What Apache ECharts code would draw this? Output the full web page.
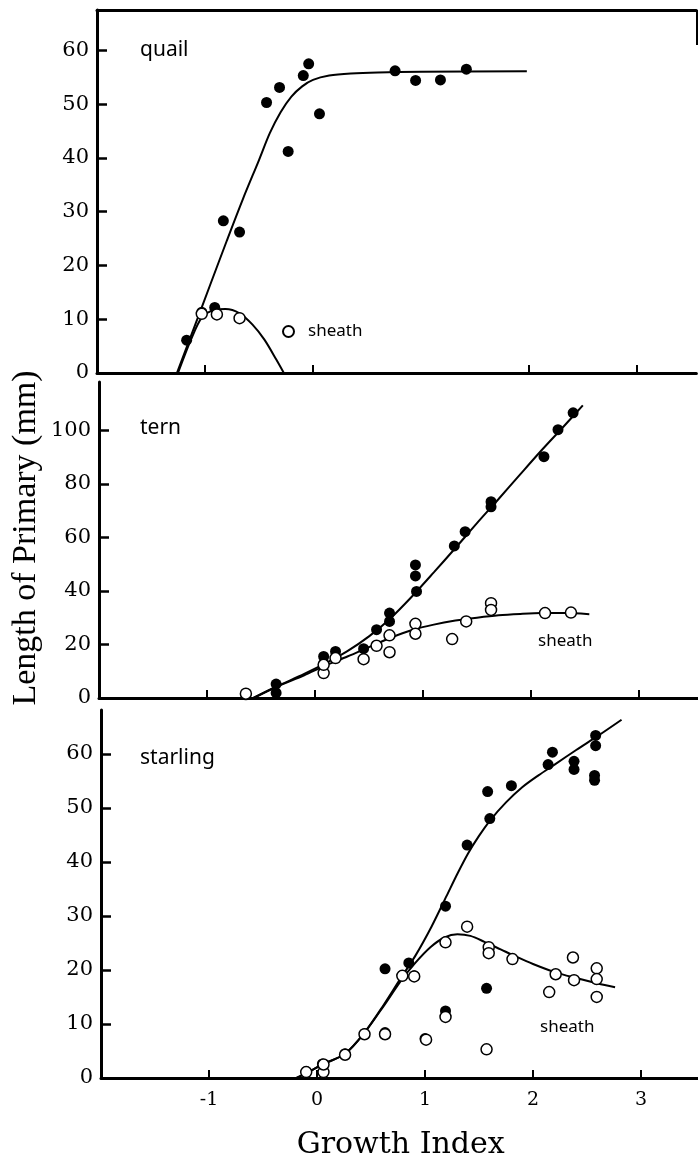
<!DOCTYPE html>
<html><head><meta charset="utf-8">
<script src="https://cdn.jsdelivr.net/npm/echarts@6/dist/echarts.min.js"></script>
<style>html,body{margin:0;padding:0;background:#fff}#c{width:698px;height:1165px}</style>
</head><body><div id="c"></div>
<script>
// ---- tick labels ----
const xTickValues = [-1, 0, 1, 2, 3];
const quailXTickValues = [-1, 0, 2, 3];
const quailYTicks = [0, 10, 20, 30, 40, 50, 60];
const ternYTicks = [0, 20, 40, 60, 80, 100];
const starlingYTicks = [0, 10, 20, 30, 40, 50, 60];
const panelNames = ['quail', 'tern', 'starling'];

// ---- quail ----
const quailPrimary = [[-1.17,6.1],[-1.03,11.3],[-0.91,12.2],[-0.83,28.3],[-0.68,26.2],[-0.43,50.3],[-0.31,53.1],[-0.23,41.2],[-0.09,55.3],[-0.04,57.5],[0.06,48.2],[0.76,56.2],[0.95,54.4],[1.18,54.5],[1.42,56.5]];
const quailSheath = [[-1.03,11.0],[-0.89,10.9],[-0.68,10.2]];
const quailPrimaryFit = [[-1.26,0],[-1.1,8.5],[-0.95,16.5],[-0.8,24.5],[-0.65,32.3],[-0.5,39.6],[-0.4,44.6],[-0.3,48.5],[-0.2,51.4],[-0.1,53.3],[0.0,54.5],[0.15,55.3],[0.35,55.7],[0.6,55.9],[1.0,56.0],[1.98,56.1]];
const quailSheathFit = [[-1.25,0],[-1.13,6.2],[-1.03,10.3],[-0.92,11.7],[-0.81,11.9],[-0.68,11.1],[-0.56,9.0],[-0.45,6.2],[-0.34,2.5],[-0.27,0]];

// ---- tern ----
const ternPrimary = [[-0.64,1.2],[-0.36,5.2],[-0.36,1.9],[0.08,15.5],[0.19,17.4],[0.45,18.4],[0.57,25.5],[0.69,31.7],[0.69,28.6],[0.93,49.7],[0.93,45.6],[0.94,39.8],[1.29,56.8],[1.39,62.1],[1.63,73.3],[1.63,71.4],[2.12,90.1],[2.25,100.2],[2.39,106.5]];
const ternSheath = [[-0.64,1.6],[0.08,9.3],[0.08,12.4],[0.19,14.9],[0.45,14.5],[0.57,19.5],[0.69,23.4],[0.69,17.1],[0.93,27.7],[0.93,24.0],[1.27,22.0],[1.40,28.6],[1.63,35.4],[1.63,32.9],[2.13,31.7],[2.37,31.9]];
const ternPrimaryFit = [[-0.57,0],[-0.36,4.2],[-0.1,9.0],[0.1,13.0],[0.3,17.5],[0.5,23.0],[0.7,29.8],[0.9,38.0],[1.1,46.9],[1.3,56.0],[1.5,65.3],[1.7,74.3],[1.9,83.5],[2.1,92.6],[2.3,101.3],[2.48,109.3]];
const ternSheathFit = [[-0.57,0],[-0.36,4.1],[-0.1,8.5],[0.1,12.2],[0.3,15.5],[0.5,19.0],[0.7,22.5],[0.9,25.4],[1.1,27.4],[1.3,28.9],[1.5,30.0],[1.7,30.9],[1.9,31.4],[2.1,31.7],[2.3,31.7],[2.54,31.3]];

// ---- starling ----
const starlingPrimary = [[-0.10,1.2],[0.05,2.6],[0.06,1.1],[0.26,4.5],[0.44,8.2],[0.63,20.2],[0.63,8.4],[0.79,18.9],[0.85,21.3],[0.90,18.9],[1.00,7.3],[1.19,31.8],[1.19,12.4],[1.39,43.1],[1.58,53.0],[1.57,16.6],[1.60,48.0],[1.80,54.1],[2.14,58.0],[2.18,60.3],[2.38,58.6],[2.38,57.1],[2.58,63.4],[2.58,61.5],[2.57,56.0],[2.57,55.1]];
const starlingSheath = [[-0.10,1.1],[0.06,1.1],[0.06,2.5],[0.26,4.3],[0.44,8.1],[0.63,8.1],[0.79,18.9],[0.90,18.8],[1.01,7.1],[1.19,25.1],[1.19,11.3],[1.39,28.0],[1.59,24.2],[1.59,23.1],[1.57,5.3],[1.81,22.0],[2.15,15.9],[2.21,19.2],[2.37,22.3],[2.38,18.1],[2.59,20.3],[2.59,18.3],[2.59,15.0]];
const starlingPrimaryFit = [[-0.19,0],[-0.1,0.9],[0.05,2.5],[0.26,4.5],[0.44,8.4],[0.62,13.6],[0.77,18.3],[0.91,22.6],[1.06,28.0],[1.2,33.7],[1.3,37.8],[1.4,41.6],[1.5,44.8],[1.6,47.6],[1.75,51.0],[1.9,53.8],[2.05,56.0],[2.2,58.0],[2.4,60.7],[2.6,63.3],[2.82,66.3]];
const starlingSheathFit = [[-0.19,0],[-0.1,0.9],[0.05,2.5],[0.26,4.5],[0.44,8.4],[0.62,13.4],[0.77,17.8],[0.91,21.3],[1.05,24.2],[1.18,26.0],[1.3,26.6],[1.42,26.3],[1.55,25.2],[1.7,23.8],[1.85,22.4],[2.0,21.1],[2.2,19.6],[2.4,18.5],[2.6,17.5],[2.76,16.8]];

const SERIF = 'DejaVu Serif';
const SANS = 'Noto Sans';
const AXW = 3;

const grids = [
  {left: 97, top: 10, width: 599.4, height: 363},
  {left: 99, top: 382, width: 599.4, height: 316},
  {left: 101, top: 710, width: 599.4, height: 368}
];

function xAxisFor(i, ticks, labels) {
  return {
    type: 'value', gridIndex: i, min: -2, max: 3.55,
    axisLine: {show: true, onZero: false, lineStyle: {color: '#000', width: AXW}},
    axisTick: {show: true, inside: true, length: 8, customValues: ticks, lineStyle: {color: '#000', width: 2}},
    axisLabel: labels ? {show: true, customValues: xTickValues, margin: 13, color: '#000', fontFamily: SERIF, fontSize: 19} : {show: false},
    splitLine: {show: false}
  };
}
function yAxisFor(i, max, ticks) {
  return {
    type: 'value', gridIndex: i, min: 0, max: max, position: 'left',
    axisLine: {show: true, onZero: false, lineStyle: {color: '#000', width: AXW}},
    axisTick: {show: true, inside: true, length: 10, customValues: ticks, lineStyle: {color: '#000', width: 2.5}},
    axisLabel: {show: true, customValues: ticks, margin: 8, color: '#000', fontFamily: SERIF, fontSize: 21},
    splitLine: {show: false}
  };
}

const xAxes = [
  xAxisFor(0, quailXTickValues, false),
  xAxisFor(1, xTickValues, false),
  Object.assign(xAxisFor(2, xTickValues, true), {
    name: 'Growth Index', nameLocation: 'middle', nameGap: 52,
    nameTextStyle: {color: '#000', fontFamily: SERIF, fontSize: 30}
  }),
  // top frame of the quail panel
  {type: 'value', gridIndex: 0, position: 'top', min: -2, max: 3.55,
   axisLine: {show: true, onZero: false, lineStyle: {color: '#000', width: AXW}},
   axisTick: {show: false}, axisLabel: {show: false}, splitLine: {show: false}}
];
const yAxes = [yAxisFor(0, 67.5, quailYTicks), yAxisFor(1, 118, ternYTicks), yAxisFor(2, 68.1, starlingYTicks)];

function fit(i, data) {
  return {type: 'line', xAxisIndex: i, yAxisIndex: i, data: data, smooth: 0.3, showSymbol: false,
    lineStyle: {color: '#000', width: 2}, z: 2, silent: true};
}
function dots(i, data, open, name) {
  return {type: 'scatter', name: name, xAxisIndex: i, yAxisIndex: i, data: data, symbol: 'circle', symbolSize: 11,
    itemStyle: open ? {color: '#fff', borderColor: '#000', borderWidth: 1.5, opacity: 1} : {color: '#000', opacity: 1},
    z: open ? 4 : 3, silent: true};
}

const series = [
  fit(0, quailPrimaryFit), fit(0, quailSheathFit),
  dots(0, quailPrimary, false, 'quail primary'), dots(0, quailSheath, true, 'sheath'),
  fit(1, ternPrimaryFit), fit(1, ternSheathFit),
  dots(1, ternPrimary, false, 'tern primary'), dots(1, ternSheath, true, 'tern sheath'),
  fit(2, starlingPrimaryFit), fit(2, starlingSheathFit),
  dots(2, starlingPrimary, false, 'starling primary'), dots(2, starlingSheath, true, 'starling sheath')
];

const labelStyle = (txt, x, y, size) => ({type: 'text', x: x, y: y, silent: true,
  style: {text: txt, fill: '#000', fontFamily: SANS, fontSize: size, align: 'left', verticalAlign: 'middle'}});

const option = {
  animation: false,
  backgroundColor: '#fff',
  grid: grids.map(g => Object.assign({containLabel: false, outerBoundsMode: 'none'}, g)),
  xAxis: xAxes,
  yAxis: yAxes,
  legend: {
    data: [{name: 'sheath', icon: 'circle'}],
    left: 282, top: 323, padding: 0, itemWidth: 11, itemHeight: 11,
    selectedMode: false,
    textStyle: {color: '#000', fontFamily: SANS, fontSize: 17, padding: [3, 0, 0, 9]}
  },
  graphic: [
    {type: 'text', x: 26, y: 538, rotation: Math.PI / 2, silent: true,
     style: {text: 'Length of Primary (mm)', fill: '#000', fontFamily: 'Liberation Serif', fontSize: 34, align: 'center', verticalAlign: 'middle'}},
    labelStyle(panelNames[0], 140, 50, 21),
    labelStyle(panelNames[1], 140, 428, 21),
    labelStyle(panelNames[2], 140, 758, 21),
    labelStyle('sheath', 538, 641, 17),
    labelStyle('sheath', 540, 1027, 17),
    {type: 'line', silent: true, shape: {x1: 697, y1: 10, x2: 697, y2: 45}, style: {stroke: '#000', lineWidth: 2}}
  ],
  series: series
};

const chart = echarts.init(document.getElementById('c'), null, {renderer: 'canvas'});
chart.setOption(option);
</script>
</body></html>
